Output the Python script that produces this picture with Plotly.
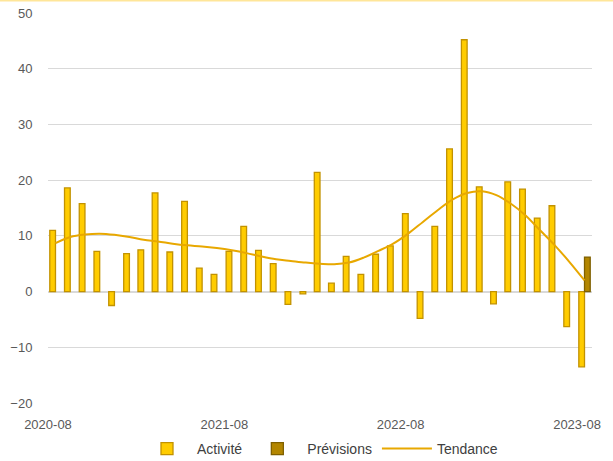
import plotly.graph_objects as go
import pandas as pd

months = pd.date_range("2020-08-01", "2023-08-01", freq="MS").strftime("%Y-%m-%d").tolist()

activite = [11.0, 18.6, 15.8, 7.2, -2.5, 6.8, 7.5, 17.7, 7.1, 16.2, 4.2, 3.1,
            7.2, 11.7, 7.4, 5.0, -2.3, -0.4, 21.4, 1.5, 6.3, 3.1, 6.7, 8.2,
            14.0, -4.8, 11.7, 25.6, 45.2, 18.8, -2.2, 19.7, 18.4, 13.2, 15.4, -6.3,
            -13.5]
prevision_mois = ["2023-08-01"]
previsions = [6.2]
tendance = [8.7, 9.8, 10.25, 10.4, 10.2, 9.8, 9.3, 9.0, 8.6, 8.3, 8.1, 7.8,
            7.4, 6.9, 6.3, 5.8, 5.5, 5.2, 5.0, 4.9, 5.2, 6.1, 7.3, 8.6,
            10.4, 12.5, 14.6, 16.5, 17.7, 18.0, 17.3, 15.8, 13.7, 11.0, 8.3, 5.3,
            2.0]

fig = go.Figure()
fig.add_trace(go.Bar(x=months, y=activite, name="Activité",
                     xperiod="M1", xperiodalignment="middle",
                     marker=dict(color="#FFCC00", line=dict(color="#C29200", width=1.3))))
fig.add_trace(go.Bar(x=prevision_mois, y=previsions, name="Prévisions",
                     xperiod="M1", xperiodalignment="middle",
                     marker=dict(color="#B38600", line=dict(color="#7F6000", width=1.3))))
fig.add_trace(go.Scatter(x=months, y=tendance, name="Tendance", mode="lines",
                         xperiod="M1", xperiodalignment="middle",
                         line=dict(color="#E8A800", width=2, shape="spline")))

xr = ["2020-08-01", "2023-09-01"]
fig.update_layout(
    width=613, height=461,
    margin=dict(l=48, r=21, t=13, b=58),
    paper_bgcolor="white", plot_bgcolor="white",
    font=dict(family="Liberation Sans, Arial, sans-serif", size=13, color="#595959"),
    barmode="group", bargap=0.2, bargroupgap=0,
    showlegend=True,
    legend=dict(orientation="h", x=0.5, xanchor="center", yref="container",
                y=12 / 461, yanchor="middle", itemwidth=50,
                font=dict(size=14, color="#404040"), traceorder="normal"),
    xaxis=dict(type="date", range=xr, autorange=False, tick0="2020-08-01", dtick="M12",
               tickformat="%Y-%m", automargin=False,
               showgrid=False, zeroline=False, showline=False,
               ticks="outside", ticklen=9, tickcolor="rgba(0,0,0,0)"),
    xaxis2=dict(type="date", overlaying="x", range=xr, autorange=False,
                anchor="free", position=20 / 70, automargin=False,
                tick0="2020-08-01", dtick="M12", showticklabels=False,
                showgrid=False, zeroline=False, showline=False,
                ticks="outside", ticklen=4, tickcolor="#d0d0d0", tickwidth=1.5),
    yaxis=dict(range=[-20, 50], dtick=10, showgrid=True, gridcolor="#d9d9d9", gridwidth=1,
               zeroline=True, zerolinecolor="#d9d9d9", zerolinewidth=1.5, automargin=False,
               ticks="outside", ticklen=12, tickcolor="rgba(0,0,0,0)"),
    shapes=[dict(type="line", xref="paper", yref="paper", x0=-0.1, x1=1.05,
                 y0=1 + 12.5 / 390, y1=1 + 12.5 / 390,
                 line=dict(color="#FFE699", width=2))],
)

# page body has an 8px default margin; drop it so the figure sits at the corner
fig.write_html("out.html", config={"displayModeBar": False},
               post_script="document.body.style.margin='0';")
